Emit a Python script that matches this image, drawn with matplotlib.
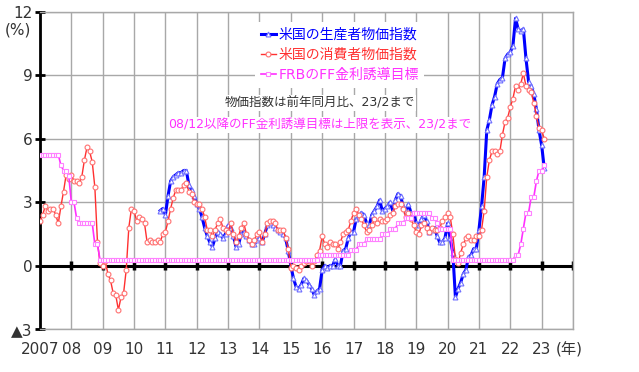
import numpy as np
import matplotlib.pyplot as plt

plt.rcParams['font.family'] = ['DejaVu Sans', 'Noto Sans CJK JP']

# monthly data, Jan 2007 - Feb 2023 (% yoy)
cpi = [
    2.1, 2.4, 2.8, 2.6, 2.7, 2.7, 2.4, 2.0, 2.8, 3.5, 4.3, 4.1,
    4.3, 4.0, 4.0, 3.9, 4.2, 5.0, 5.6, 5.4, 4.9, 3.7, 1.1, 0.1,
    0.0, 0.2, -0.4, -0.7, -1.3, -1.4, -2.1, -1.5, -1.3, -0.2, 1.8, 2.7,
    2.6, 2.1, 2.3, 2.2, 2.0, 1.1, 1.2, 1.1, 1.1, 1.2, 1.1, 1.5,
    1.6, 2.1, 2.7, 3.2, 3.6, 3.6, 3.6, 3.8, 3.9, 3.5, 3.4, 3.0,
    2.9, 2.9, 2.7, 2.3, 1.7, 1.7, 1.4, 1.7, 2.0, 2.2, 1.8, 1.7,
    1.6, 2.0, 1.5, 1.1, 1.4, 1.8, 2.0, 1.5, 1.2, 1.0, 1.2, 1.5,
    1.6, 1.1, 1.5, 2.0, 2.1, 2.1, 2.0, 1.7, 1.7, 1.7, 1.3, 0.8,
    -0.1, 0.0, -0.1, -0.2, 0.0, 0.1, 0.2, 0.2, 0.0, 0.2, 0.5, 0.7,
    1.4, 1.0, 0.9, 1.1, 1.0, 1.0, 0.8, 1.1, 1.5, 1.6, 1.7, 2.1,
    2.5, 2.7, 2.4, 2.2, 1.9, 1.6, 1.7, 1.9, 2.2, 2.0, 2.2, 2.1,
    2.1, 2.2, 2.4, 2.5, 2.8, 2.9, 2.9, 2.7, 2.3, 2.5, 2.2, 1.9,
    1.6, 1.5, 1.9, 2.0, 1.8, 1.6, 1.8, 1.7, 1.7, 1.8, 2.1, 2.3,
    2.5, 2.3, 1.5, 0.3, 0.1, 0.6, 1.0, 1.3, 1.4, 1.2, 1.2, 1.4,
    1.4, 1.7, 2.6, 4.2, 5.0, 5.4, 5.4, 5.3, 5.4, 6.2, 6.8, 7.0,
    7.5, 7.9, 8.5, 8.3, 8.6, 9.1, 8.5, 8.3, 8.2, 7.7, 7.1, 6.5,
    6.4, 6.0,
]

# producer prices start Nov 2010
ppi = [
    2.6, 2.7,
    2.4, 3.3, 4.0, 4.2, 4.3, 4.4, 4.4, 4.5, 4.5, 3.8, 3.6, 3.3,
    2.9, 2.7, 2.3, 1.8, 1.4, 1.1, 0.9, 1.3, 1.6, 1.5, 1.3, 1.5,
    1.9, 1.8, 1.4, 0.9, 1.0, 1.5, 1.6, 1.4, 1.2, 1.0, 1.0, 1.2,
    1.3, 1.1, 1.5, 1.9, 2.0, 1.9, 1.8, 1.7, 1.6, 1.5, 1.3, 0.7,
    0.0, -0.6, -1.0, -1.1, -0.9, -0.6, -0.7, -0.9, -1.1, -1.4, -1.2, -1.1,
    -0.2, 0.0, -0.1, 0.0, 0.0, 0.3, 0.0, 0.0, 0.7, 0.8, 1.3, 1.6,
    1.6, 2.2, 2.3, 2.5, 2.4, 2.0, 1.9, 2.4, 2.6, 2.8, 3.1, 2.6,
    2.7, 2.8, 3.0, 2.6, 3.1, 3.4, 3.3, 2.8, 2.6, 2.9, 2.5, 2.5,
    2.0, 1.9, 2.2, 2.4, 2.1, 1.6, 1.7, 1.8, 1.4, 1.1, 1.1, 1.3,
    2.0, 1.3, 0.6, -1.5, -1.1, -0.8, -0.4, -0.2, 0.4, 0.5, 0.8, 0.8,
    1.7, 2.8, 4.2, 6.4, 6.9, 7.6, 8.0, 8.6, 8.8, 8.9, 9.8, 10.0,
    10.1, 10.4, 11.7, 11.2, 11.1, 11.2, 9.8, 8.7, 8.5, 8.1, 7.4, 6.4,
    5.7, 4.6,
]

ff_rate = [
    5.25, 5.25, 5.25, 5.25, 5.25, 5.25, 5.25, 5.25, 4.75, 4.5, 4.5, 4.25,
    3.0, 3.0, 2.25, 2.0, 2.0, 2.0, 2.0, 2.0, 2.0, 1.0, 1.0, 0.25,
    0.25, 0.25, 0.25, 0.25, 0.25, 0.25, 0.25, 0.25, 0.25, 0.25, 0.25, 0.25,
    0.25, 0.25, 0.25, 0.25, 0.25, 0.25, 0.25, 0.25, 0.25, 0.25, 0.25, 0.25,
    0.25, 0.25, 0.25, 0.25, 0.25, 0.25, 0.25, 0.25, 0.25, 0.25, 0.25, 0.25,
    0.25, 0.25, 0.25, 0.25, 0.25, 0.25, 0.25, 0.25, 0.25, 0.25, 0.25, 0.25,
    0.25, 0.25, 0.25, 0.25, 0.25, 0.25, 0.25, 0.25, 0.25, 0.25, 0.25, 0.25,
    0.25, 0.25, 0.25, 0.25, 0.25, 0.25, 0.25, 0.25, 0.25, 0.25, 0.25, 0.25,
    0.25, 0.25, 0.25, 0.25, 0.25, 0.25, 0.25, 0.25, 0.25, 0.25, 0.25, 0.5,
    0.5, 0.5, 0.5, 0.5, 0.5, 0.5, 0.5, 0.5, 0.5, 0.5, 0.5, 0.75,
    0.75, 0.75, 1.0, 1.0, 1.0, 1.25, 1.25, 1.25, 1.25, 1.25, 1.25, 1.5,
    1.5, 1.5, 1.75, 1.75, 1.75, 2.0, 2.0, 2.0, 2.25, 2.25, 2.25, 2.5,
    2.5, 2.5, 2.5, 2.5, 2.5, 2.5, 2.25, 2.25, 2.0, 1.75, 1.75, 1.75,
    1.75, 1.75, 0.25, 0.25, 0.25, 0.25, 0.25, 0.25, 0.25, 0.25, 0.25, 0.25,
    0.25, 0.25, 0.25, 0.25, 0.25, 0.25, 0.25, 0.25, 0.25, 0.25, 0.25, 0.25,
    0.25, 0.25, 0.5, 0.5, 1.0, 1.75, 2.5, 2.5, 3.25, 3.25, 4.0, 4.5,
    4.5, 4.75,
]

years = list(range(2007, 2025))
year_labels = ['2007', '08', '09', '10', '11', '12', '13', '14', '15',
               '16', '17', '18', '19', '20', '21', '22', '23', '']
y_ticks = [-3, 0, 3, 6, 9, 12]
y_labels = ['▲3', '0', '3', '6', '9', '12']

x_cpi = 2007 + np.arange(len(cpi)) / 12
x_ff = 2007 + np.arange(len(ff_rate)) / 12
x_ppi = 2010 + 10 / 12 + np.arange(len(ppi)) / 12

fig = plt.figure(figsize=(6.39, 3.72), dpi=100)
ax = fig.add_axes([40 / 639, 43 / 372, 533 / 639, 317 / 372])

ln_ppi, = ax.plot(x_ppi, ppi, color='#0000ff', lw=2.2, marker='^', ms=3.5,
                  mfc='white', mec='#7070ff', mew=0.8, zorder=3)
ln_cpi, = ax.plot(x_cpi, cpi, color='#ff3030', lw=1.0, marker='o', ms=3.5,
                  mfc='white', mec='#ff7070', mew=0.8, zorder=4)
ln_ff, = ax.plot(x_ff, ff_rate, color='#ff30ff', lw=1.2, marker='s', ms=3.2,
                 mfc='white', mec='#ff80ff', mew=0.8, zorder=5)

ax.axhline(0, color='black', lw=2.2, zorder=2)
ax.vlines(years[1:], -0.2, 0.2, color='black', lw=2.5, zorder=2)

ax.set_xlim(2007, 2024)
ax.set_ylim(-3, 12)
ax.set_xticks(years)
ax.set_xticklabels(year_labels)
ax.set_yticks(y_ticks)
ax.set_yticklabels(y_labels)
ax.grid(True, color='#a8a8a8', lw=1)
ax.set_axisbelow(True)

for s in ['top', 'right', 'bottom']:
    ax.spines[s].set_color('#a8a8a8')
    ax.spines[s].set_linewidth(1)
ax.spines['left'].set_color('black')
ax.spines['left'].set_linewidth(2)

ax.tick_params(axis='x', length=0, pad=9, labelsize=11, labelcolor='#333333')
ax.tick_params(axis='y', direction='inout', length=7, width=2, pad=2,
               labelsize=11, labelcolor='#333333')

fig.text(18 / 639, 1 - 30 / 372, '(%)', ha='center', va='center',
         fontsize=11, color='#333333')
fig.text(556 / 639, 1 - 350 / 372, '(年)', ha='left', va='center',
         fontsize=11, color='#333333')

leg = ax.legend([ln_ppi, ln_cpi, ln_ff],
                ['米国の生産者物価指数', '米国の消費者物価指数', 'FRBのFF金利誘導目標'],
                loc='upper left', bbox_to_anchor=(248 / 639, 1 - 15 / 372),
                bbox_transform=fig.transFigure, fontsize=10, frameon=True,
                fancybox=False, framealpha=1, edgecolor='none',
                handlelength=1.1, handletextpad=0.2, labelspacing=0.45,
                borderpad=0.4)
for t, c in zip(leg.get_texts(), ['#0000ff', '#ff3030', '#ff30ff']):
    t.set_color(c)

box = dict(facecolor='white', edgecolor='none', pad=1)
ax.text(0.525, 0.713, '物価指数は前年同月比、23/2まで', transform=ax.transAxes,
        ha='center', va='center', fontsize=9, color='#333333', bbox=box)
ax.text(0.525, 0.644, '08/12以降のFF金利誘導目標は上限を表示、23/2まで',
        transform=ax.transAxes, ha='center', va='center', fontsize=9,
        color='#ff30ff', bbox=box)

plt.savefig('out.png', dpi=100)
